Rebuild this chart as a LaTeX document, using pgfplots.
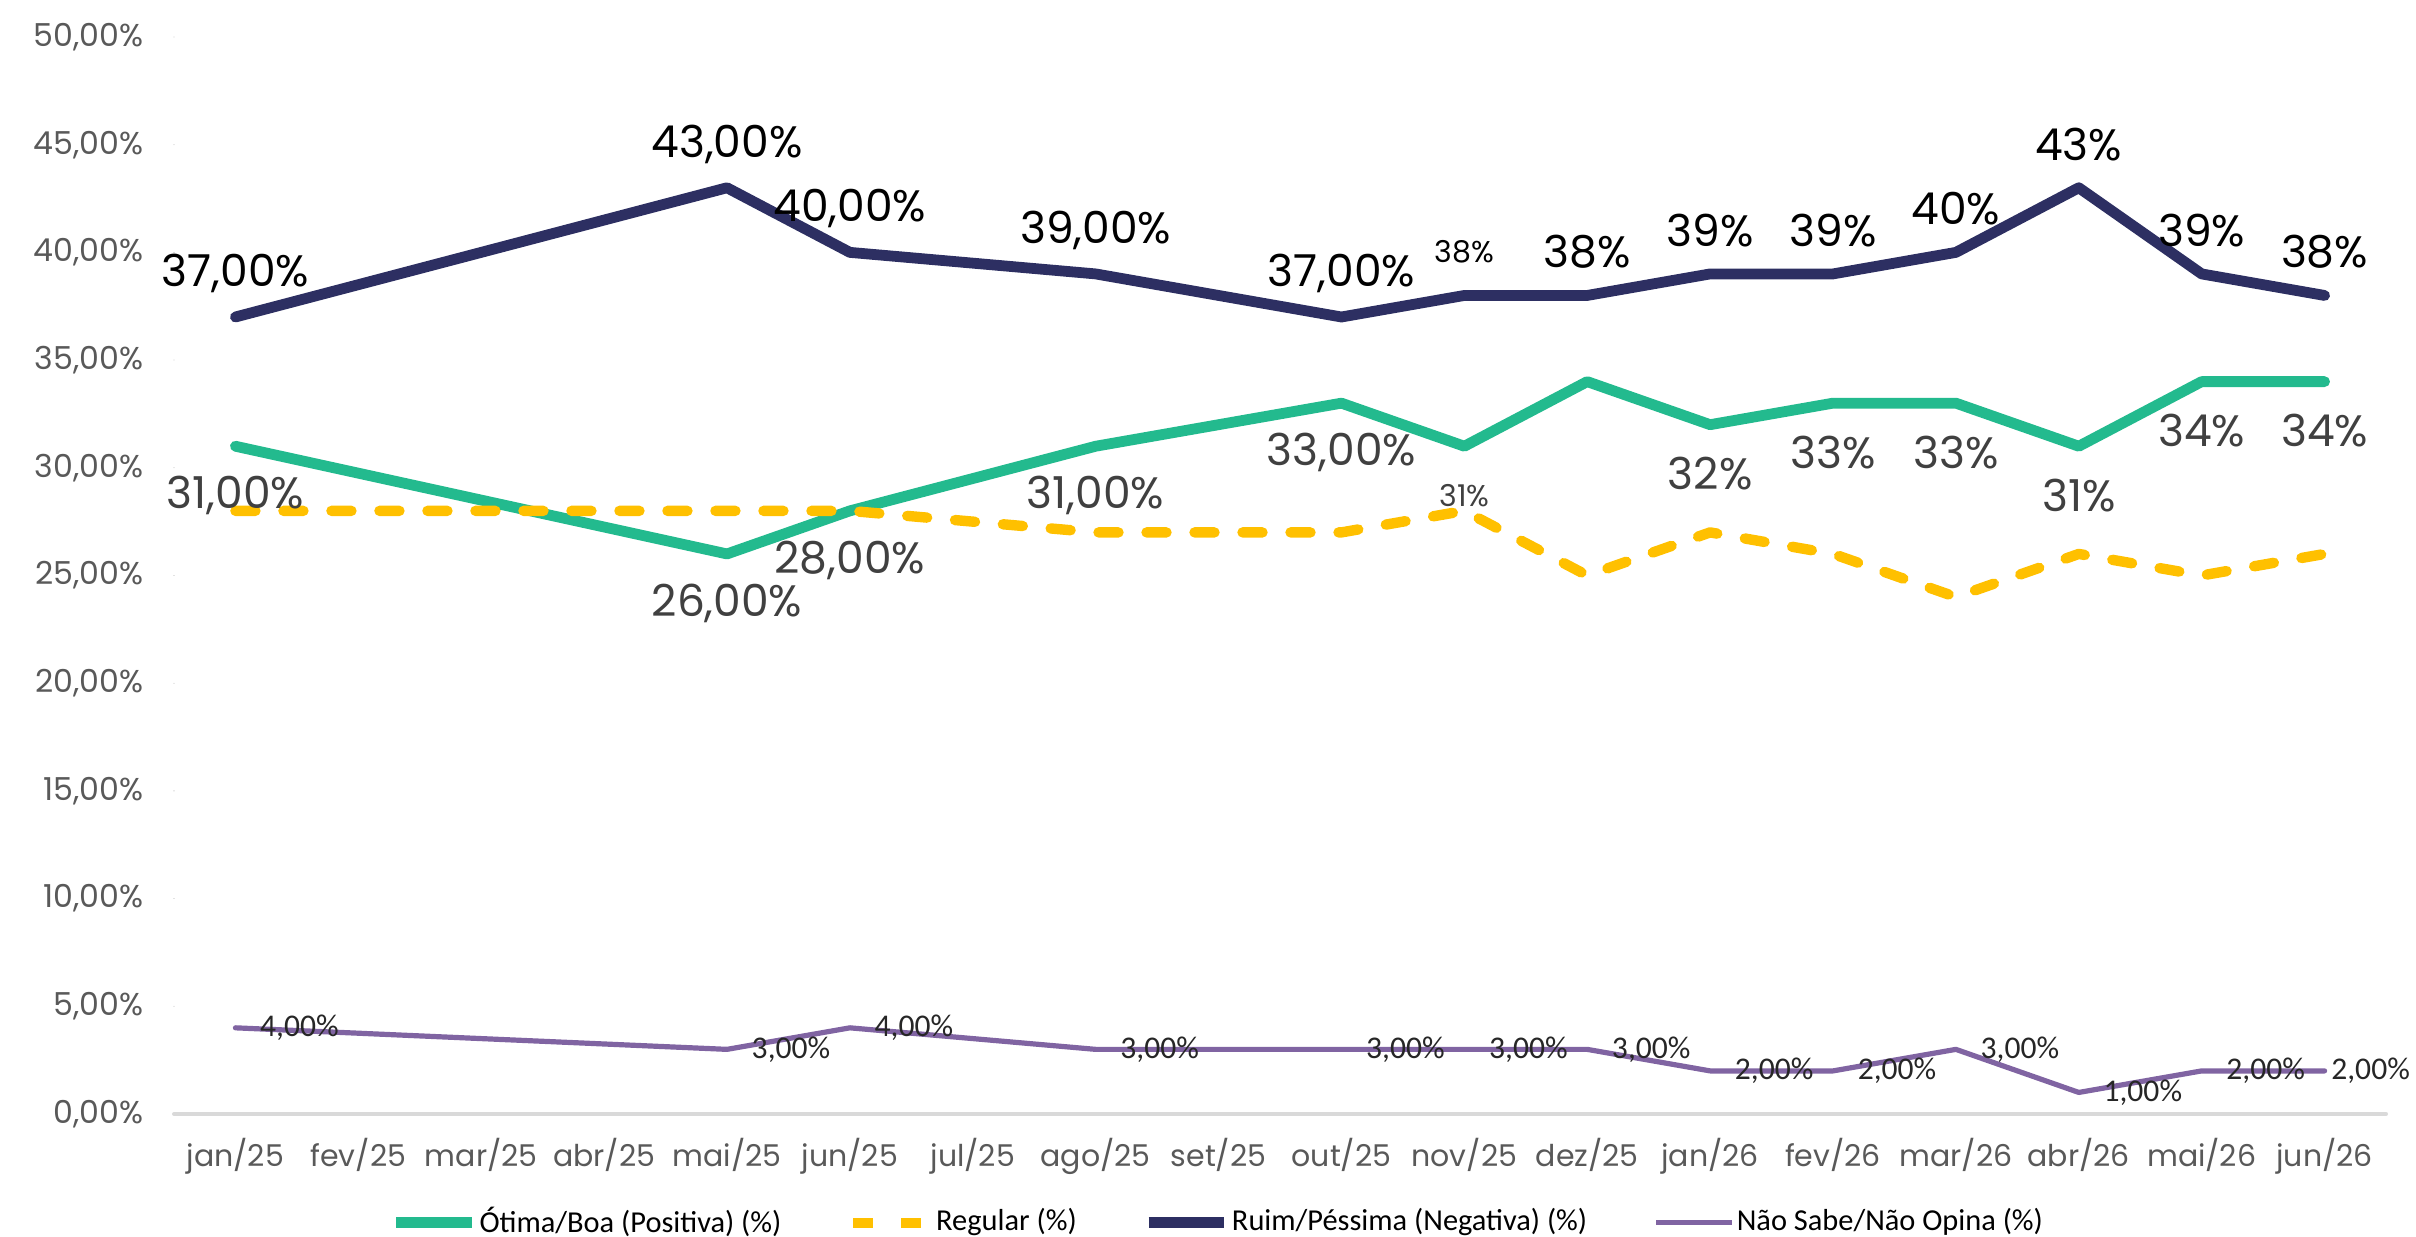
\documentclass[border=0pt]{standalone}
\usepackage{fontspec}
\setmainfont{Poppins}
\newfontfamily\cali{Carlito}
\usepackage{pgfplots}
\pgfplotsset{compat=1.18}

\definecolor{cpos}{HTML}{23BA8E}
\definecolor{creg}{HTML}{FFC000}
\definecolor{cneg}{HTML}{2D2F62}
\definecolor{cns}{HTML}{8064A2}
\definecolor{tickgray}{HTML}{595959}
\definecolor{lblgray}{HTML}{404040}
\definecolor{lbldark}{HTML}{262626}

\newcommand{\lbl}{\fontsize{11}{13}\selectfont}
\newcommand{\sml}{\fontsize{7.9}{9}\selectfont}

\begin{document}
\begin{tikzpicture}
\useasboundingbox (-43.5pt,-30.75pt) rectangle (560.5pt,278.5pt);
\begin{axis}[
    at={(0,0)}, anchor=south west,
    scale only axis,
    width=553pt, height=269.25pt,
    xmin=-0.5, xmax=17.5,
    ymin=0, ymax=50,
    xtick={0,...,17},
    xticklabels={jan/25,fev/25,mar/25,abr/25,mai/25,jun/25,jul/25,ago/25,set/25,
        out/25,nov/25,dez/25,jan/26,fev/26,mar/26,abr/26,mai/26,jun/26},
    ytick={0,5,...,50},
    yticklabels={{0,00\%},{5,00\%},{10,00\%},{15,00\%},{20,00\%},{25,00\%},
        {30,00\%},{35,00\%},{40,00\%},{45,00\%},{50,00\%}},
    axis x line*=bottom,
    axis y line*=left,
    y axis line style={draw=none},
    x axis line style={draw=black!15, line width=1pt},
    major tick length=0pt,
    xticklabel style={font=\fontsize{7.5}{9}\selectfont, text=tickgray,
        anchor=base, yshift=-13.25pt},
    yticklabel style={font=\sml, text=tickgray, anchor=east, xshift=-4.2pt},
    clip=false,
    legend columns=4,
    legend style={at={(axis description cs:0.472,-0.101)}, anchor=center,
        draw=none, fill=none, font=\cali\fontsize{7.6}{9}\selectfont,
        nodes={inner xsep=0.6pt},
        /tikz/every odd column/.append style={column sep=0pt},
        /tikz/every even column/.append style={column sep=16pt}},
    legend cell align=left,
    legend image code/.code={\draw[#1] (0pt,0pt) -- (18.9pt,0pt);},
    line join=round, line cap=round,
]

% Otima/Boa
\addplot[color=cpos, line width=2.7pt,
    nodes near coords, point meta=explicit symbolic,
    every node near coord/.append style={anchor=center, yshift=-12.3pt,
        font=\lbl, text=lblgray}]
coordinates {
    (0,31) [31,00\%]
    (4,26) [26,00\%]
    (5,28) [28,00\%]
    (7,31) [31,00\%]
    (9,33) [33,00\%]
    (10,31) [{\fontsize{7.5}{9}\selectfont 31\%}]
    (11,34) []
    (12,32) [32\%]
    (13,33) [33\%]
    (14,33) [33\%]
    (15,31) [31\%]
    (16,34) [34\%]
    (17,34) [34\%]
};
\addlegendentry{Ótima/Boa (Positiva) (\%)}

% Regular
\addplot[color=creg, line width=2.6pt, dash pattern=on 5pt off 7pt]
coordinates {
    (0,28) (4,28) (5,28) (7,27) (9,27) (10,28) (11,25)
    (12,27) (13,26) (14,24) (15,26) (16,25) (17,26)
};
\addlegendentry{Regular (\%)}

% Ruim/Pessima
\addplot[color=cneg, line width=2.7pt,
    nodes near coords, point meta=explicit symbolic,
    every node near coord/.append style={anchor=center, yshift=10.9pt,
        font=\lbl, text=black}]
coordinates {
    (0,37) [37,00\%]
    (4,43) [43,00\%]
    (5,40) [40,00\%]
    (7,39) [39,00\%]
    (9,37) [37,00\%]
    (10,38) [{\fontsize{7.5}{9}\selectfont 38\%}]
    (11,38) [38\%]
    (12,39) [39\%]
    (13,39) [39\%]
    (14,40) [40\%]
    (15,43) [43\%]
    (16,39) [39\%]
    (17,38) [38\%]
};
\addlegendentry{Ruim/Péssima (Negativa) (\%)}

% Nao sabe
\addplot[color=cns, line width=1.3pt,
    nodes near coords, point meta=explicit symbolic,
    every node near coord/.append style={anchor=west, xshift=2.2pt,
        font=\cali\fontsize{7.9}{9}\selectfont, text=lbldark}]
coordinates {
    (0,4) [4,00\%]
    (4,3) [3,00\%]
    (5,4) [4,00\%]
    (7,3) [3,00\%]
    (9,3) [3,00\%]
    (10,3) [3,00\%]
    (11,3) [3,00\%]
    (12,2) [2,00\%]
    (13,2) [2,00\%]
    (14,3) [3,00\%]
    (15,1) [1,00\%]
    (16,2) [2,00\%]
    (17,2) [{\hspace*{-4.5pt}2,00\%}]
};
\addlegendentry{Não Sabe/Não Opina (\%)}

\end{axis}
\end{tikzpicture}
\end{document}
